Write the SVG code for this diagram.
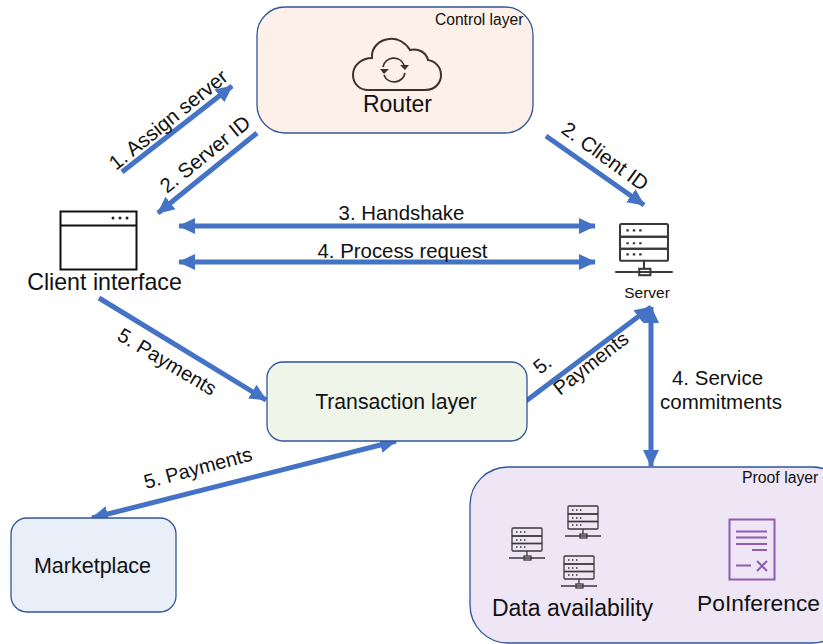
<svg xmlns="http://www.w3.org/2000/svg" width="823" height="644" viewBox="0 0 823 644">
<style>
text{font-family:"Liberation Sans",Arial,sans-serif;fill:#111}
.box{stroke:#2f5597;stroke-width:1.3}
.c{stroke:#4472c4;stroke-width:5;fill:none}
.ic{fill:none;stroke:#3a3a3a;stroke-width:1.3}
.p{fill:none;stroke:#8e5cb0;stroke-width:2}
</style>
<defs>
<marker id="a" markerUnits="userSpaceOnUse" markerWidth="20" markerHeight="20" refX="16" refY="10" orient="auto-start-reverse" viewBox="0 0 20 20"><path d="M0 2L17 10L0 18Z" fill="#4472c4"/></marker>
<g id="srv">
<rect x="0" y="0" width="30" height="8" rx="1" class="ic"/><rect x="0" y="8" width="30" height="7.5" class="ic"/><rect x="0" y="15.500" width="30" height="7.5" rx="1" class="ic"/>
<path d="M4 4h1.500M8 4h1.500M12 4h1.500M4 12h1.500M8 12h1.500M12 12h1.500M4 19h1.500M8 19h1.500M12 19h1.500" stroke="#333" stroke-width="1.3"/>
<path d="M15 23v5M-3 30h36" class="ic"/><rect x="12" y="28" width="7" height="4" class="ic"/>
</g>
</defs>
<g id="connectors">
<path class="c" d="M122 172L232 86" marker-end="url(#a)"/>
<path class="c" d="M257 133L158 213" marker-end="url(#a)"/>
<path class="c" d="M546 136L644 205" marker-end="url(#a)"/>
<path class="c" d="M179 226H595" marker-start="url(#a)" marker-end="url(#a)"/>
<path class="c" d="M179 262H595" marker-start="url(#a)" marker-end="url(#a)"/>
<path class="c" d="M99 298L266 400" marker-end="url(#a)"/>
<path class="c" d="M526 401L651 307" marker-end="url(#a)"/>
<path class="c" d="M651 307V466" marker-start="url(#a)" marker-end="url(#a)"/>
<path class="c" d="M92 518L396 441" marker-start="url(#a)" marker-end="url(#a)"/>
</g>
<g id="router">
<rect class="box" x="257" y="7" width="276" height="126" rx="28" fill="#fdf0e8"/>
<text x="435" y="25" font-size="15.600">Control layer</text>
<path d="M368 90H425C437 90 441 81 441 75C441 67 435 61 428 60C426 52 418 48 410 50C405 42 397 38 389 39C378 40 371 49 372 58C362 58 353 65 353 75C353 84 360 90 368 90Z" fill="none" stroke="#3a322c" stroke-width="2"/>
<path d="M383 67A11 11 0 0 1 404 65M405 73A11 11 0 0 1 384 75" fill="none" stroke="#3a322c" stroke-width="1.800"/>
<path d="M400 66L409 66L405 71ZM380 70L389 70L384 75Z" fill="#3a322c" transform="translate(0,-1)"/>
<text x="397.500" y="112" font-size="23" text-anchor="middle">Router</text>
</g>
<g id="client">
<rect x="60.500" y="211.500" width="76" height="58" fill="#fff" stroke="#111" stroke-width="2"/>
<path d="M61 225.500H136" stroke="#111" stroke-width="2"/>
<circle cx="113" cy="218" r="1.500" fill="#222"/><circle cx="120" cy="218" r="1.500" fill="#222"/><circle cx="127" cy="218" r="1.500" fill="#222"/>
<text x="104.500" y="290" font-size="23.200" text-anchor="middle">Client interface</text>
</g>
<g id="server">
<use href="#srv" transform="translate(620,224) scale(1.600)"/>
<text x="647" y="298" font-size="15.500" text-anchor="middle">Server</text>
</g>
<g id="transaction">
<rect class="box" x="267" y="362" width="260" height="79" rx="16" fill="#f0f5ea"/>
<text x="396" y="409" font-size="21.200" text-anchor="middle">Transaction layer</text>
</g>
<g id="marketplace">
<rect class="box" x="11" y="518" width="165" height="94" rx="16" fill="#e9eff8"/>
<text x="92.500" y="573" font-size="21.500" text-anchor="middle">Marketplace</text>
</g>
<g id="proof">
<rect class="box" x="470" y="467" width="380" height="176" rx="38" fill="#efe6f5"/>
<text x="742" y="483" font-size="15.800">Proof layer</text>
<use href="#srv" transform="translate(512,528)"/>
<use href="#srv" transform="translate(568,506)"/>
<use href="#srv" transform="translate(564,556)"/>
<text x="572.500" y="616" font-size="23" text-anchor="middle">Data availability</text>
<rect class="p" x="729.500" y="519.500" width="45" height="60"/>
<path class="p" d="M736 531.500H767M736 537.500H767M736 544H767M752 550H767M736 565.500H751M757 561L767 571M767 561L757 571"/>
<text x="758.500" y="611" font-size="22.800" text-anchor="middle">PoInference</text>
</g>
<g id="labels">
<text font-size="20.500" transform="translate(116,171) rotate(-39)">1. Assign server</text>
<text font-size="20.500" transform="translate(167,194) rotate(-39)">2. Server ID</text>
<text font-size="20.500" transform="translate(560,132) rotate(36)">2. Client ID</text>
<text x="401.500" y="220" font-size="20.400" text-anchor="middle">3. Handshake</text>
<text x="402.500" y="258" font-size="20.400" text-anchor="middle">4. Process request</text>
<text font-size="20" transform="translate(116,339) rotate(31)">5. Payments</text>
<text font-size="20" transform="translate(146,489) rotate(-15)">5. Payments</text>
<text font-size="20" transform="translate(540,375) rotate(-38)">5.</text>
<text font-size="20" transform="translate(560,396) rotate(-38)">Payments</text>
<text x="717.500" y="385" font-size="20.500" text-anchor="middle">4. Service</text>
<text x="721" y="409" font-size="20.500" text-anchor="middle">commitments</text>
</g>
</svg>
